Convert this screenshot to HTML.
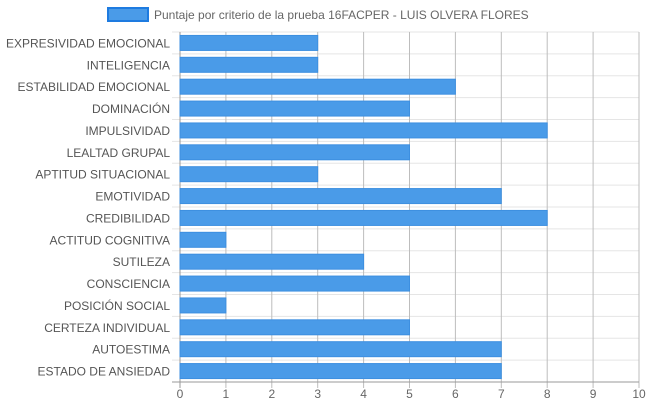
<!DOCTYPE html>
<html><head><meta charset="utf-8"><style>
body{margin:0;background:#fff;width:648px;height:410px;overflow:hidden;font-family:"Liberation Sans",sans-serif}
</style></head><body>
<svg width="648" height="410" id="c" font-family="Liberation Sans, sans-serif"></svg>
<script>
const categories=["EXPRESIVIDAD EMOCIONAL","INTELIGENCIA","ESTABILIDAD EMOCIONAL","DOMINACIÓN","IMPULSIVIDAD","LEALTAD GRUPAL","APTITUD SITUACIONAL","EMOTIVIDAD","CREDIBILIDAD","ACTITUD COGNITIVA","SUTILEZA","CONSCIENCIA","POSICIÓN SOCIAL","CERTEZA INDIVIDUAL","AUTOESTIMA","ESTADO DE ANSIEDAD"];
const values=[3,3,6,5,8,5,3,7,8,1,4,5,1,5,7,7];
const xTicks=[0,1,2,3,4,5,6,7,8,9,10];
const svg=document.getElementById('c');const NS='http://www.w3.org/2000/svg';
function mk(t,a,p){const e=document.createElementNS(NS,t);for(const k in a)e.setAttribute(k,a[k]);(p||svg).appendChild(e);return e;}
const X0=180,X1=639,Y0=32,Y1=382,xmax=10;
const xs=v=>X0+(v/xmax)*(X1-X0);
const rh=(Y1-Y0)/categories.length;
const ys=i=>Y0+i*rh;
for(let i=0;i<=categories.length;i++){const l=mk('line',{x1:X0-8,x2:X1,y1:ys(i),y2:ys(i),stroke:'#e5e5e5'});

}
xTicks.forEach(t=>{const l=mk('line',{x1:xs(t),x2:xs(t),y1:Y0,y2:Y1+6,stroke:t==0?'#999':'#bdbdbd'});


const tx=mk('text',{x:xs(t),y:398,'text-anchor':'middle','font-size':12,fill:'#666'});tx.textContent=t;

});
mk('line',{x1:X0-8,x2:X1,y1:Y1,y2:Y1,stroke:'#999'});
categories.forEach((c,i)=>{const cy=ys(i)+rh/2;
const r=mk('rect',{x:X0,y:cy-7.5,width:xs(values[i])-X0,height:15,fill:'#4a9be8',stroke:'#3d8fe0','stroke-width':1});


const t=mk('text',{x:X0-10,y:cy+4.5,'text-anchor':'end','font-size':12,fill:'#555'});t.textContent=c;

});
const lb=mk('rect',{x:108,y:8,width:40,height:13,fill:'#4a9be8',stroke:'#1e7be0','stroke-width':2});


const lt=mk('text',{x:154,y:19,'font-size':12,fill:'#666'});lt.textContent='Puntaje por criterio de la prueba 16FACPER - LUIS OLVERA FLORES';


</script>
</body></html>
